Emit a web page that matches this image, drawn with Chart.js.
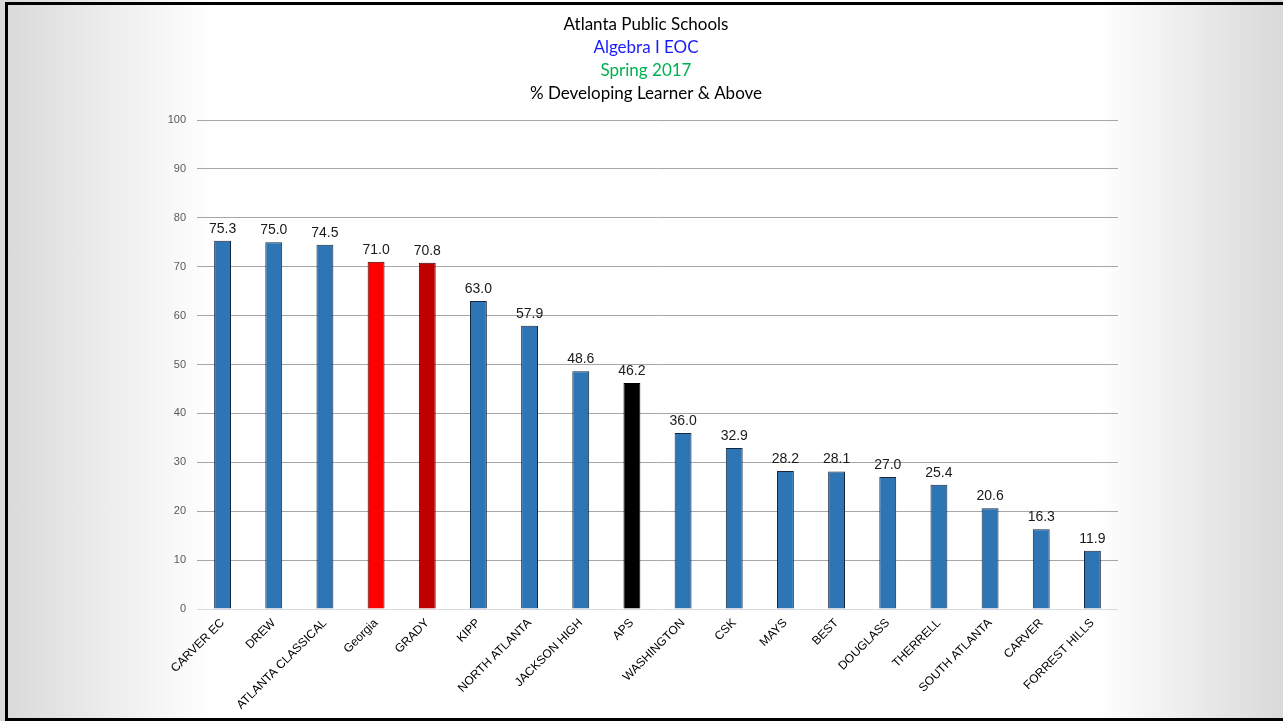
<!DOCTYPE html>
<html>
<head>
<meta charset="utf-8">
<script src="https://cdn.jsdelivr.net/npm/chart.js@4/dist/chart.umd.min.js"></script>
<style>
  html, body { margin: 0; padding: 0; width: 1283px; height: 721px; overflow: hidden; }
  .bg {
    position: absolute; left: 0; top: 0; width: 1283px; height: 721px;
    background: linear-gradient(to right, #d9d9d9 0%, #ffffff 16.5%, #ffffff 85.5%, #d9d9d9 100%);
  }
  .frame {
    position: absolute; left: 5px; top: 2px; width: 1290px; height: 713px;
    border: 3px solid #000;
    border-right: none;
  }
  #wrap { position: absolute; left: 0; top: 0; width: 1283px; height: 721px; }
</style>
</head>
<body>
<div class="bg"></div>
<div class="frame"></div>
<div id="wrap"><canvas id="chart"></canvas></div>
<script>
const schools = ['CARVER EC', 'DREW', 'ATLANTA CLASSICAL', 'Georgia', 'GRADY', 'KIPP', 'NORTH ATLANTA',
  'JACKSON HIGH', 'APS', 'WASHINGTON', 'CSK', 'MAYS', 'BEST', 'DOUGLASS', 'THERRELL',
  'SOUTH ATLANTA', 'CARVER', 'FORREST HILLS'];
const pctDeveloping = [75.3, 75.0, 74.5, 71.0, 70.8, 63.0, 57.9, 48.6, 46.2, 36.0, 32.9, 28.2, 28.1, 27.0, 25.4, 20.6, 16.3, 11.9];
const titleLines = ['Atlanta Public Schools', 'Algebra I EOC', 'Spring 2017', '% Developing Learner & Above'];

// bar highlight: Georgia red, GRADY dark red, APS black
const blue = '#2e75b6';
const fillColors = schools.map(s => s === 'Georgia' ? '#ff0000' : s === 'GRADY' ? '#c00000' : s === 'APS' ? '#000000' : blue);
const edgeColors = schools.map(s => s === 'Georgia' || s === 'GRADY' ? '#3a0000' : s === 'APS' ? '#000000' : '#16263d');
const titleColors = ['#000000', '#1a1aff', '#00b050', '#000000'];

// title lines drawn by hand since each line has its own colour
const titlePlugin = {
  id: 'titleLines',
  afterDraw(chart) {
    const ctx = chart.ctx;
    ctx.save();
    ctx.font = '17px Lato';
    ctx.textAlign = 'center';
    ctx.textBaseline = 'middle';
    titleLines.forEach((t, i) => {
      ctx.fillStyle = titleColors[i];
      ctx.fillText(t, 646, 25 + i * 23);
    });
    ctx.restore();
  }
};

// value labels above bars
const valuePlugin = {
  id: 'valueLabels',
  afterDatasetsDraw(chart) {
    const ctx = chart.ctx;
    const meta = chart.getDatasetMeta(0);
    ctx.save();
    ctx.font = '14px "Liberation Sans", Arial';
    ctx.fillStyle = '#1a1a1a';
    ctx.textAlign = 'center';
    ctx.textBaseline = 'bottom';
    meta.data.forEach((bar, i) => {
      ctx.fillText(pctDeveloping[i].toFixed(1), bar.x, bar.y - 5);
    });
    ctx.restore();
  }
};

new Chart(document.getElementById('chart'), {
  type: 'bar',
  data: {
    labels: schools,
    datasets: [{
      data: pctDeveloping,
      backgroundColor: fillColors,
      borderColor: edgeColors,
      borderWidth: 1,
      barPercentage: 0.66,
      categoryPercentage: 0.5
    }]
  },
  options: {
    responsive: true,
    maintainAspectRatio: false,
    animation: false,
    layout: { padding: { top: 120, right: 165, left: 0, bottom: 0 } },
    plugins: {
      legend: { display: false },
      title: { display: false },
      tooltip: { enabled: false }
    },
    scales: {
      x: {
        grid: { display: false, drawTicks: false },
        border: { display: false },
        ticks: {
          minRotation: 45, maxRotation: 45, autoSkip: false, padding: 7,
          color: '#000', font: { family: '"Liberation Sans", Arial', size: 12 }
        },
        afterFit(scale) { scale.height = 112; }
      },
      y: {
        min: 0, max: 100,
        grid: {
          drawTicks: false,
          color: ctx => ctx.tick && ctx.tick.value === 0 ? '#d9d9d9' : '#a6a6a6'
        },
        border: { display: false },
        ticks: {
          stepSize: 10, padding: 11,
          color: '#595959', font: { family: '"Liberation Sans", Arial', size: 11 }
        },
        afterFit(scale) { scale.width = 197; }
      }
    }
  },
  plugins: [titlePlugin, valuePlugin]
});
</script>
</body>
</html>
